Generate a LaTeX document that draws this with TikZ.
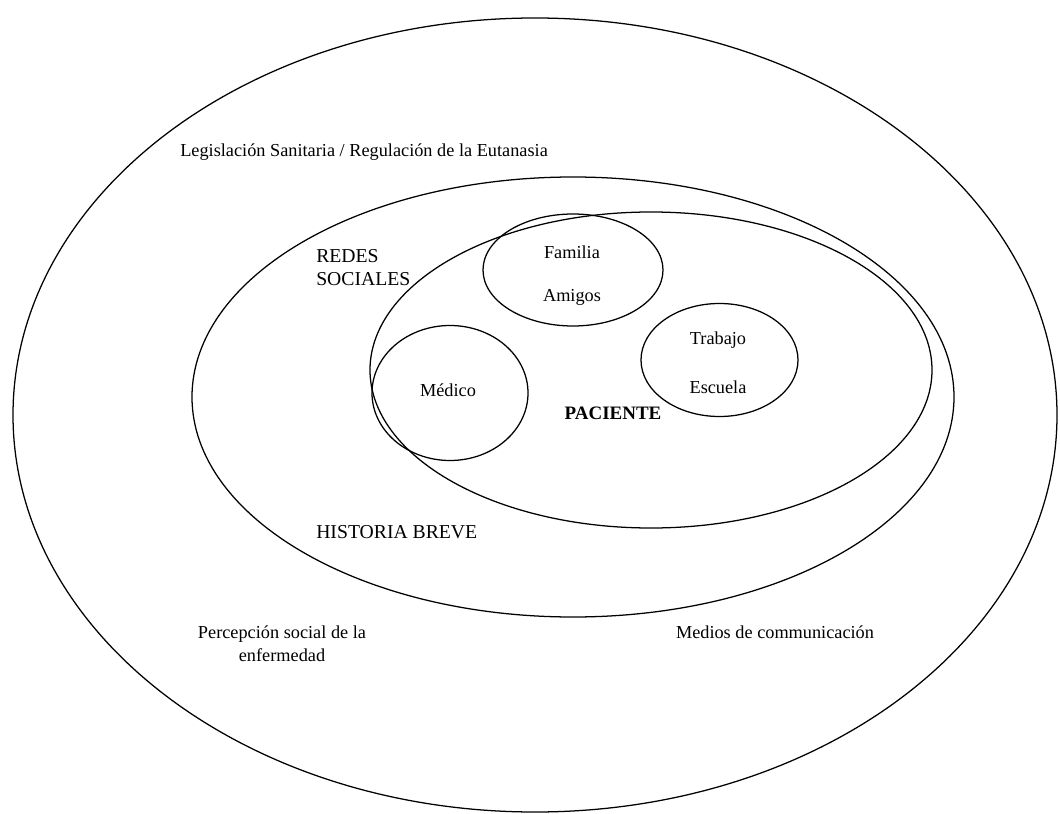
\documentclass[tikz,border=0pt]{standalone}
\usepackage{fontspec}
\setmainfont{Liberation Serif}
\usepackage{tikz}
\tikzstyle{ring} = [line width=0.9pt]
\tikzstyle{lbl} = [inner sep=0pt, font=\fontsize{13}{16.3}\selectfont]
\tikzstyle{caplbl} = [inner sep=0pt, font=\fontsize{14}{16.3}\selectfont]

\begin{document}
\begin{tikzpicture}[x=0.025cm,y=-0.025cm]
		% Page frame in pixel units of the original picture:
		\useasboundingbox (0,0) rectangle (1060,814);
		
		% The rings:
		% Outer one is the social context, then the social networks, then the patient
		\begin{scope}[ring]
		\draw (535,415) ellipse [x radius=522, y radius=397];
		\draw (573,397) ellipse [x radius=381, y radius=220];
		\draw (651,370) ellipse [x radius=281, y radius=158];
		% Small circles inside the patient ring:
		\draw (573,270) ellipse [x radius=90, y radius=56];
		\draw (719.5,360) ellipse [x radius=78.5, y radius=56.5];
		\draw (450,393) ellipse [x radius=78, y radius=67.5];
		\end{scope}
		
		% Labels of the rings:
		\node [lbl, anchor=west] (ley) at (180,152) {Legislación Sanitaria / Regulación de la Eutanasia};
		\node [caplbl, anchor=west, align=left] (redes) at (316,267.5) {REDES\\SOCIALES};
		\node [caplbl, anchor=west] (historia) at (316,532) {HISTORIA BREVE};
		\node [lbl, align=center] (percepcion) at (282,643.5) {Percepción social de la\\enfermedad};
		\node [lbl] (medios) at (775,632) {Medios de communicación};
		
		% Labels of the small circles:
		\node [lbl] (familia) at (572,252) {Familia};
		\node [lbl] (amigos) at (572,297) {Amigos};
		\node [lbl] (trabajo) at (718,340) {Trabajo};
		\node [lbl] (escuela) at (718,387) {Escuela};
		\node [lbl] (medico) at (448,390) {Médico};
		\node [caplbl, font=\fontsize{13.5}{16}\selectfont\bfseries] (paciente) at (613,413) {PACIENTE};
		
\end{tikzpicture}
\end{document}
